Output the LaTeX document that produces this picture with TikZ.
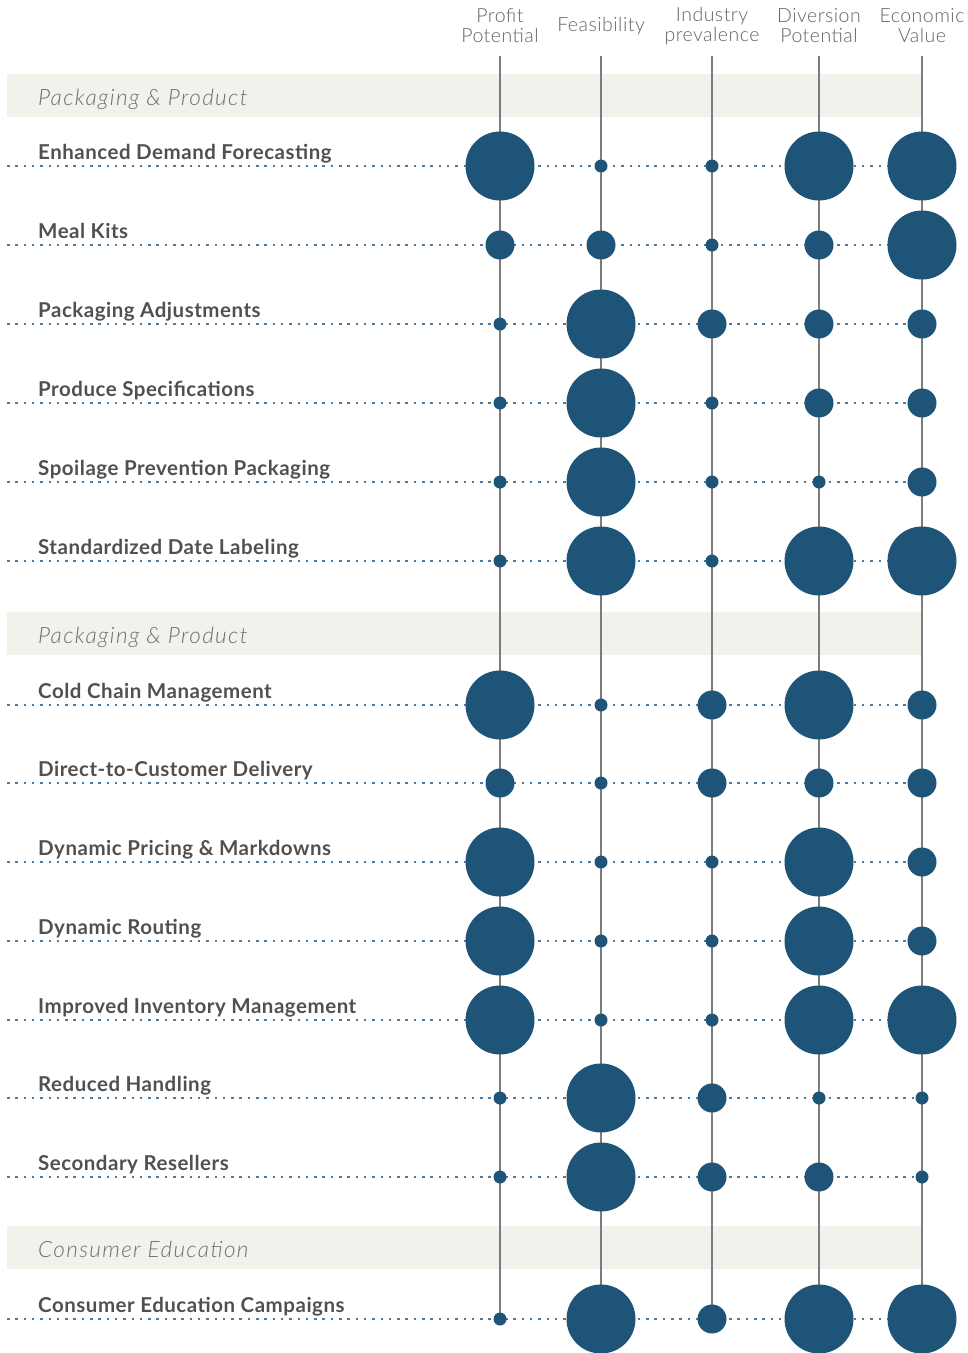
\documentclass[tikz,border=0pt]{standalone}
\usepackage{fontspec}
\setmainfont{Lato}
\newfontfamily\lightfont{Lato Light}
\newfontfamily\labfont[LetterSpace=2.5]{Lato}
\newfontfamily\headfont[LetterSpace=2.5]{Lato Light}
\newfontfamily\bandfont[LetterSpace=6]{Lato Light}
\definecolor{dotblue}{HTML}{1E5477}
\definecolor{dashblue}{HTML}{4A7BA3}
\definecolor{bandcol}{HTML}{F3F1EB}
\definecolor{labgray}{HTML}{505050}
\definecolor{headgray}{HTML}{636363}
\definecolor{bandgray}{HTML}{6E6E6E}
\definecolor{linegray}{HTML}{7C7C7C}
\pgfdeclarelayer{back}
\pgfdeclarelayer{mid}
\pgfsetlayers{back,mid,main}
\tikzset{
  dot/.style={circle, fill=dotblue, inner sep=0pt, outer sep=0pt},
  hdash/.style={draw=dashblue, line width=1.8pt, dash pattern=on 2.5pt off 5.8pt},
  vline/.style={draw=linegray, line width=1.6pt},
  band/.style={fill=bandcol},
  lab/.style={font=\labfont\fontsize{20.5}{24}\selectfont\bfseries, text=labgray, inner sep=0pt, anchor=base west},
  head/.style={font=\headfont\fontsize{19.5}{20}\selectfont, text=headgray, align=center, inner sep=0pt},
  bandtext/.style={font=\bandfont\itshape\fontsize{22.5}{24}\selectfont, text=bandgray, inner sep=0pt, anchor=base west},
}
\begin{document}
\begin{tikzpicture}[x=1pt,y=-1pt]
\useasboundingbox (0,0) rectangle (968,1353);
% section bands
\begin{pgfonlayer}{back}
\fill[band] (7,74) rectangle (922,117);
\fill[band] (7,612) rectangle (922,655);
\fill[band] (7,1226) rectangle (922,1269);
\end{pgfonlayer}
\node[bandtext] (s1) at (38,105) {Packaging \& Product};
\node[bandtext] (s2) at (38,643) {Packaging \& Product};
\node[bandtext] (s3) at (38,1257.5) {Consumer Education};
% headers
\node[head] (hP) at (500,26) {Profit\\Potential};
\node[head] (hF) at (601,26) {Feasibility};
\node[head] (hI) at (712,26) {Industry\\prevalence};
\node[head] (hD) at (819,26) {Diversion\\Potential};
\node[head] (hE) at (922,26) {Economic\\Value};
\foreach \c/\x in {P/500,F/601,I/712,D/819,E/922}{
  \coordinate (top\c) at (\x,56);
}
% rows
\foreach \i/\y/\lab/\a/\b/\c/\d/\e in {
  1/166/Enhanced Demand Forecasting/69/13/13/69/69,
  2/245/Meal Kits/29/29/13/29/69,
  3/324/Packaging Adjustments/13/69/29/29/29,
  4/403/Produce Specifications/13/69/13/29/29,
  5/482/Spoilage Prevention Packaging/13/69/13/13/29,
  6/561/Standardized Date Labeling/13/69/13/69/69,
  7/705/Cold Chain Management/69/13/29/69/29,
  8/783/Direct-to-Customer Delivery/29/13/29/29/29,
  9/862/Dynamic Pricing \& Markdowns/69/13/13/69/29,
  10/941/Dynamic Routing/69/13/13/69/29,
  11/1020/Improved Inventory Management/69/13/13/69/69,
  12/1098/Reduced Handling/13/69/29/13/13,
  13/1177/Secondary Resellers/13/69/29/29/13,
  14/1319/Consumer Education Campaigns/13/69/29/69/69}{
  \coordinate (left\i) at (7,\y);
  \node[dot, minimum size=\a] (r\i P) at (500,\y) {};
  \node[dot, minimum size=\b] (r\i F) at (601,\y) {};
  \node[dot, minimum size=\c] (r\i I) at (712,\y) {};
  \node[dot, minimum size=\d] (r\i D) at (819,\y) {};
  \node[dot, minimum size=\e] (r\i E) at (922,\y) {};
  \node[lab] (l\i) at (38,\y-7) {\lab};
  \begin{pgfonlayer}{mid}
    \draw[hdash] (left\i) -- (r\i E.center);
  \end{pgfonlayer}
}
\begin{pgfonlayer}{mid}
\foreach \c in {P,F,I,D,E}{
  \draw[vline] (top\c) -- (r14\c.center);
}
\end{pgfonlayer}
\end{tikzpicture}
\end{document}
